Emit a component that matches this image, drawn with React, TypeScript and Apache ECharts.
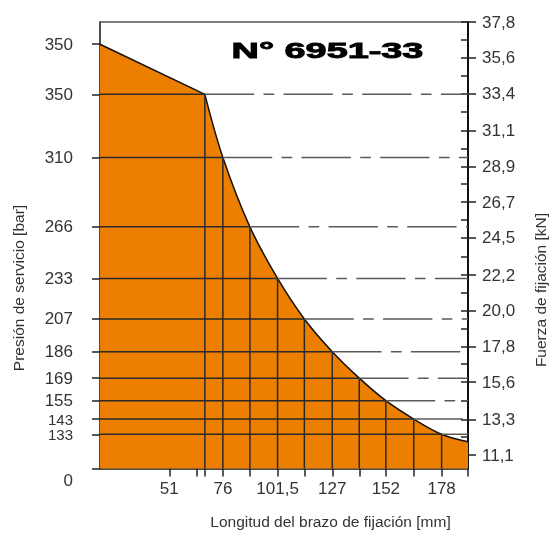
import { useEffect, useRef } from 'react';
import * as echarts from 'echarts';

// Arm length (mm) where each pressure level meets the limit curve
const armLengths = [67.6, 76, 88.6, 101.5, 114, 127, 139.6, 152, 165, 178];
// Clamping force (kN) at those points
const clampForces = [33.34, 29.45, 25.17, 21.99, 19.49, 17.47, 15.84, 14.45, 13.32, 12.38];
// Operating pressure (bar) for each level
const pressureLabels = ['350', '310', '266', '233', '207', '186', '169', '155', '143', '133'];
// Curve start (shortest arm) and end (longest arm)
const curveStart = [18.7, 36.43];
const curveEnd = [190.3, 11.92];
const startPressure = '350';
// Axis ranges
const armMin = 18.7;
const armMax = 190.3;
const forceMin = 10.27;
const forceMax = 37.8;
// Tick labels
const armTickLabels = [51, 76, 101.5, 127, 152, 178];
const armTicks = [51, 63.8, 67.6, 76, 88.6, 101.5, 114, 127, 139.6, 152, 165, 178, 190.3];
const forceTickLabels = [37.8, 35.6, 33.4, 31.1, 28.9, 26.7, 24.5, 22.2, 20.0, 17.8, 15.6, 13.3, 11.1];
const forceMinorTicks = [37.8, 36.7, 35.6, 34.5, 33.4, 32.25, 31.1, 30.0, 28.9, 27.8, 26.7, 25.6, 24.5, 23.35, 22.2, 21.1, 20.0, 18.9, 17.8, 16.7, 15.6, 14.45, 13.3, 12.2, 11.1];

const ORANGE = '#EC7F00';
const TEXT = '#333';
const FONT = '"Liberation Sans", Arial, sans-serif';
const DASH_W = 1.5;

export default function App() {
  const ref = useRef<HTMLDivElement>(null);
  useEffect(() => {
    const chart = echarts.init(ref.current!, null, { renderer: 'svg' });

    const leftValues = [curveStart[1], ...clampForces, forceMin];
    const leftTexts = [startPressure, ...pressureLabels, '0'];
    const lastIdx = leftTexts.length - 1;
    const leftFmt = (v: number) => {
      let best = 0;
      let bd = Infinity;
      leftValues.forEach((lv, i) => {
        const d = Math.abs(lv - v);
        if (d < bd) { bd = d; best = i; }
      });
      const t = leftTexts[best];
      if (best === lastIdx) return '{z|' + t + '}';
      // the two lowest levels sit very close together: slightly smaller text
      if (best >= lastIdx - 2) return '{s|' + t + '}';
      return t;
    };

    const seg = (name: string, data: number[][], color: string, width: number, type: any, z: number) => ({
      name,
      type: 'line',
      data,
      symbol: 'none',
      silent: true,
      z,
      lineStyle: { color, width, type },
      xAxisIndex: 0,
      yAxisIndex: 0,
    });

    // dash pattern in px (zrender scales dash arrays by line width)
    const dashPattern = [74, 14, 16, 14].map((n) => n / DASH_W);

    const gridSeries: any[] = [];
    armLengths.forEach((a, i) => {
      const f = clampForces[i];
      gridSeries.push(seg('h' + i, [[armMin, f], [a, f]], '#2a2a2a', 1.5, 'solid', 4));
      gridSeries.push(seg('v' + i, [[a, forceMin], [a, f]], '#2a2a2a', 1.5, 'solid', 4));
      gridSeries.push(seg('d' + i, [[a, f], [armMax, f]], '#5a5a5a', DASH_W, dashPattern, 4));
    });

    const labelStyle = { fontSize: 17, fontFamily: FONT, color: TEXT, lineHeight: 15 };

    const option: any = {
      animation: false,
      grid: { left: 100, right: 84, top: 22, bottom: 68.5, outerBoundsMode: 'none' },
      xAxis: [
        {
          type: 'value',
          min: armMin,
          max: armMax,
          position: 'bottom',
          axisLine: { show: true, lineStyle: { color: '#111', width: 1.5 } },
          axisTick: { show: true, length: 8, customValues: armTicks, lineStyle: { color: '#222', width: 1.5 } },
          axisLabel: {
            customValues: armTickLabels,
            formatter: (v: number) => String(v).replace('.', ','),
            ...labelStyle,
            margin: 12,
          },
          splitLine: { show: false },
        },
        {
          type: 'value',
          min: armMin,
          max: armMax,
          position: 'top',
          axisLine: { show: true, lineStyle: { color: '#555', width: 1.5 } },
          axisTick: { show: false },
          axisLabel: { show: false },
          splitLine: { show: false },
        },
      ],
      yAxis: [
        {
          type: 'value',
          min: forceMin,
          max: forceMax,
          position: 'left',
          axisLine: { show: true, lineStyle: { color: '#111', width: 1.5 } },
          axisTick: { show: true, length: 8, customValues: leftValues, lineStyle: { color: '#222', width: 1.5 } },
          axisLabel: {
            customValues: leftValues,
            formatter: leftFmt,
            ...labelStyle,
            margin: 27,
            rich: {
              z: { fontSize: 17, fontFamily: FONT, color: TEXT, padding: [24, 0, 0, 0] },
              s: { fontSize: 15, lineHeight: 14, fontFamily: FONT, color: TEXT },
            },
          },
          splitLine: { show: false },
        },
        {
          type: 'value',
          min: forceMin,
          max: forceMax,
          position: 'right',
          axisLine: { show: true, lineStyle: { color: '#111', width: 2 } },
          axisTick: { show: true, length: 8, customValues: forceTickLabels, lineStyle: { color: '#222', width: 1.5 } },
          axisLabel: {
            customValues: forceTickLabels,
            formatter: (v: number) => v.toFixed(1).replace('.', ','),
            ...labelStyle,
            margin: 14,
          },
          splitLine: { show: false },
        },
        {
          type: 'value',
          min: forceMin,
          max: forceMax,
          position: 'right',
          axisLine: { show: false },
          axisTick: { show: true, inside: true, length: 7, customValues: forceMinorTicks, lineStyle: { color: '#222', width: 1.5 } },
          axisLabel: { show: false },
          splitLine: { show: false },
        },
      ],
      series: [
        {
          name: 'start',
          type: 'line',
          data: [curveStart, [armLengths[0], clampForces[0]]],
          symbol: 'none',
          silent: true,
          z: 2,
          lineStyle: { color: '#111', width: 1.5 },
          areaStyle: { color: ORANGE, opacity: 1, origin: 'start' },
        },
        {
          name: 'curve',
          type: 'line',
          data: [...armLengths.map((a, i) => [a, clampForces[i]]), curveEnd],
          symbol: 'none',
          smooth: 0.35,
          silent: true,
          z: 2,
          lineStyle: { color: '#111', width: 1.5 },
          areaStyle: { color: ORANGE, opacity: 1, origin: 'start' },
        },
        ...gridSeries,
      ],
      graphic: [
        {
          type: 'text',
          x: 327.5,
          y: 50.5,
          scaleX: 1.72,
          style: { text: 'N° 6951-33', fontSize: 22, fontWeight: 'bold', fontFamily: FONT, fill: '#000', stroke: '#000', lineWidth: 0.9, align: 'center', verticalAlign: 'middle' },
        },
        {
          type: 'text',
          x: 330.5,
          y: 521.7,
          style: { text: 'Longitud del brazo de fijación [mm]', fontSize: 15.5, fontFamily: FONT, fill: TEXT, align: 'center', verticalAlign: 'middle' },
        },
        {
          type: 'text',
          x: 18,
          y: 288,
          rotation: Math.PI / 2,
          style: { text: 'Presión de servicio [bar]', fontSize: 15.5, fontFamily: FONT, fill: TEXT, align: 'center', verticalAlign: 'middle' },
        },
        {
          type: 'text',
          x: 540,
          y: 290,
          rotation: Math.PI / 2,
          style: { text: 'Fuerza de fijación [kN]', fontSize: 15.5, fontFamily: FONT, fill: TEXT, align: 'center', verticalAlign: 'middle' },
        },
      ],
    };
    chart.setOption(option);
    return () => chart.dispose();
  }, []);
  return <div ref={ref} style={{ position: 'fixed', left: 0, top: 0, width: 552, height: 537 }} />;
}
